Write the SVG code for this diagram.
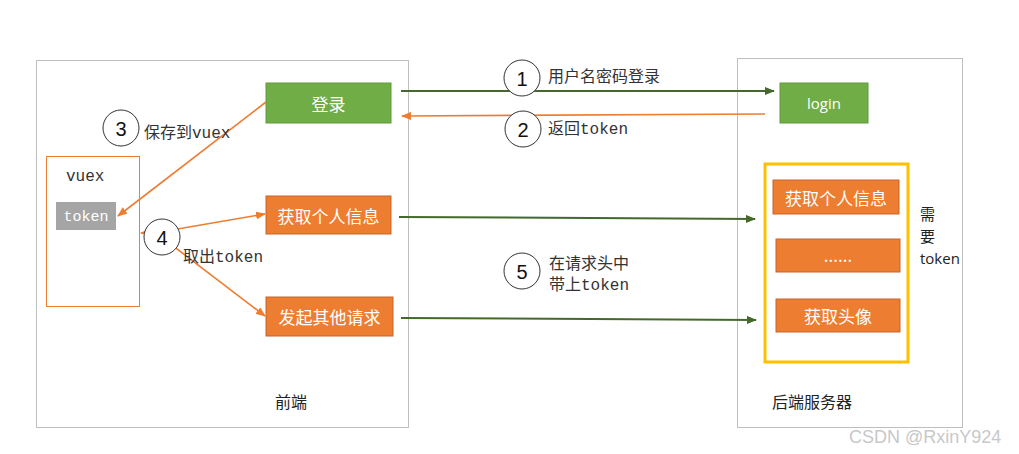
<svg xmlns="http://www.w3.org/2000/svg" width="1019" height="454" viewBox="0 0 1019 454">
<style>
.frame{fill:#fff;stroke:#bfbfbf;stroke-width:1}
.green{fill:#70AD47;stroke:#5f9a3a;stroke-width:1}
.orange{fill:#ED7D31;stroke:#c8652a;stroke-width:1}
.btxt{font-family:"Noto Sans CJK SC","Liberation Sans",sans-serif;font-size:17px;fill:#fff;text-anchor:middle;dominant-baseline:central}
.lbl{font-family:"Liberation Mono","Noto Sans CJK SC",monospace;font-size:16px;fill:#333}
.sans{font-family:"Noto Sans CJK SC","Liberation Sans",sans-serif;font-size:16px;fill:#222}
.circ{fill:#fff;stroke:#333;stroke-width:1}
.num{font-family:"Liberation Sans","Noto Sans",sans-serif;font-size:20px;fill:#111;text-anchor:middle;dominant-baseline:central}
.gl{stroke:#44692b;stroke-width:2;fill:none}
.ol{stroke:#ED7D31;stroke-width:1.6;fill:none}
</style>
<defs>
<marker id="ag" markerWidth="10" markerHeight="8" refX="9" refY="4" orient="auto" markerUnits="userSpaceOnUse"><path d="M0,0 L10,4 L0,8 z" fill="#44692b"/></marker>
<marker id="ao" markerWidth="10" markerHeight="8" refX="9" refY="4" orient="auto" markerUnits="userSpaceOnUse"><path d="M0,0 L10,4 L0,8 z" fill="#ED7D31"/></marker>
</defs>
<rect width="1019" height="454" fill="#fff"/>
<g id="frontend"><rect class="frame" x="36.5" y="60.5" width="372" height="367"/><text class="sans" x="275" y="408">前端</text></g>
<g id="backend"><rect class="frame" x="737.5" y="58.5" width="225" height="369"/><text class="sans" x="772" y="408">后端服务器</text></g>
<g id="vuex"><rect x="46.5" y="156.5" width="93" height="150" fill="#fff" stroke="#ED7D31" stroke-width="1"/><text class="lbl" x="66" y="181" fill="#222">vuex</text></g>
<g id="token"><rect x="56" y="202" width="60" height="28" fill="#A5A5A5"/><text x="86" y="217" font-family="Liberation Mono,monospace" font-size="15" fill="#fff" text-anchor="middle" dominant-baseline="central">token</text></g>
<g id="login-front"><rect class="green" x="266" y="83" width="125" height="40"/><text class="btxt" x="328.5" y="103">登录</text></g>
<g id="getinfo-front"><rect class="orange" x="266" y="196" width="125" height="38"/><text class="btxt" x="328.5" y="215">获取个人信息</text></g>
<g id="other-front"><rect class="orange" x="266" y="297" width="127" height="39"/><text class="btxt" x="329.5" y="316.5">发起其他请求</text></g>
<g id="login-back"><rect class="green" x="780" y="83" width="88" height="40"/><text class="btxt" x="824" y="103" style="font-family:'Open Sans','Noto Sans',sans-serif;font-size:15px">login</text></g>
<g id="token-zone"><rect x="765" y="164" width="143" height="198" fill="#fff" stroke="#FFC000" stroke-width="3"/>
<text class="sans" x="920" y="220" style="font-size:15px"><tspan x="920" y="220">需</tspan><tspan x="920" y="242">要</tspan><tspan x="920" y="264" style="font-family:'Open Sans','Noto Sans',sans-serif">token</tspan></text></g>
<g id="getinfo-back"><rect class="orange" x="773" y="180" width="126" height="34"/><text class="btxt" x="836" y="197">获取个人信息</text></g>
<g id="more-back"><rect class="orange" x="776" y="239" width="124" height="33"/><text class="btxt" x="838" y="254">......</text></g>
<g id="avatar-back"><rect class="orange" x="776" y="299" width="124" height="33"/><text class="btxt" x="838" y="315.5">获取头像</text></g>
<g id="connectors">
<line class="gl" x1="401" y1="91" x2="774" y2="91" marker-end="url(#ag)"/>
<line class="ol" x1="765" y1="114" x2="402" y2="116" marker-end="url(#ao)"/>
<line class="gl" x1="399" y1="217" x2="755" y2="219" marker-end="url(#ag)"/>
<line class="gl" x1="401" y1="318" x2="756" y2="320" marker-end="url(#ag)"/>
<line class="ol" x1="266" y1="102" x2="118" y2="216" marker-end="url(#ao)"/>
<line class="ol" x1="160" y1="232" x2="141" y2="233" marker-end="url(#ao)"/>
<line class="ol" x1="160" y1="232" x2="265" y2="214" marker-end="url(#ao)"/>
<line class="ol" x1="160" y1="236" x2="265" y2="316" marker-end="url(#ao)"/>
</g>
<g id="step1"><circle class="circ" cx="522" cy="78" r="18"/><text class="num" x="522" y="79">1</text><text class="lbl" x="548" y="82">用户名密码登录</text></g>
<g id="step2"><circle class="circ" cx="523" cy="129" r="18"/><text class="num" x="523" y="130">2</text><text class="lbl" x="548" y="134">返回token</text></g>
<g id="step3"><circle class="circ" cx="121" cy="128" r="18"/><text class="num" x="121" y="129">3</text><text class="lbl" x="144" y="138">保存到vuex</text></g>
<g id="step4"><circle class="circ" cx="162" cy="237" r="18"/><text class="num" x="162" y="238">4</text><text class="lbl" x="183" y="262">取出token</text></g>
<g id="step5"><circle class="circ" cx="522" cy="271" r="18"/><text class="num" x="522" y="272">5</text><text class="lbl" x="549" y="269"><tspan x="549" y="269">在请求头中</tspan><tspan x="549" y="290">带上token</tspan></text></g>
<text x="849" y="443" font-family="Liberation Sans,sans-serif" font-size="18" fill="#c8c8c8">CSDN @RxinY924</text>
</svg>
